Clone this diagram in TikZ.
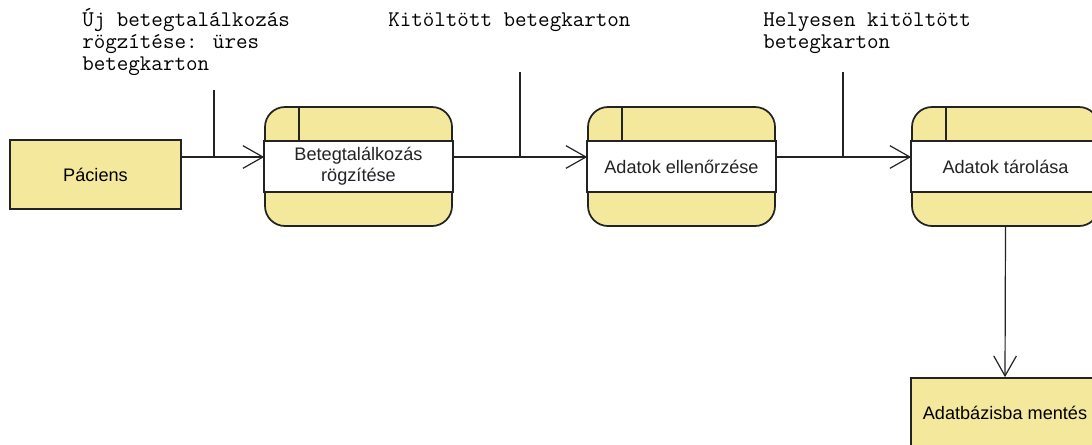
\documentclass[tikz,border=0pt]{standalone}
\usepackage{fontspec}
\setmainfont{Liberation Sans}
\usepackage{tikz}
\usetikzlibrary{arrows.meta,calc}
\definecolor{dfdyellow}{RGB}{243,232,155}
\definecolor{dfdline}{RGB}{35,35,35}

\begin{document}
\begin{tikzpicture}[x=0.75pt,y=0.75pt,yscale=-1,xscale=1,
  ext/.style={draw=dfdline,fill=dfdyellow,line width=1.3pt,minimum width=128.25pt,minimum height=51.75pt,inner sep=0pt,font=\fontsize{13.6}{16}\selectfont},
  proc/.style={draw=dfdline,fill=dfdyellow,line width=1.3pt,rounded corners=15pt,minimum width=140.25pt,minimum height=89.25pt,inner sep=0pt},
  band/.style={draw=dfdline,fill=white,line width=1.3pt},
  lbl/.style={font=\fontsize{13.6}{16}\selectfont,align=center,text=dfdline,inner sep=0pt},
  flowtxt/.style={font=\ttfamily\fontsize{16.8}{16.5}\selectfont,anchor=base west,align=left,inner sep=0pt},
  flow/.style={draw=dfdline,line width=0.9pt,-{Straight Barb[length=15pt,width=17pt]}},
]
\useasboundingbox (0,0) rectangle (1092,444);
\clip (0,0) rectangle (1092,444);

% external entity
\node[ext] (pac) at (95.5,174.5) {Páciens};

% processes
\node[proc] (p1) at (358.5,166.5) {};
\draw[band] ($(p1.west)+(0,-25.5)$) rectangle ($(p1.east)+(0,25.5)$);
\draw[band] ($(p1.north west)+(35,0)$) -- ($(p1.north west)+(35,34)$);
\node[lbl] (p1t) at (p1) {Betegtalálkozás\\rögzítése};

\node[proc] (p2) at (681.5,166.5) {};
\draw[band] ($(p2.west)+(0,-25.5)$) rectangle ($(p2.east)+(0,25.5)$);
\draw[band] ($(p2.north west)+(35,0)$) -- ($(p2.north west)+(35,34)$);
\node[lbl] (p2t) at (p2) {Adatok ellenőrzése};

\node[proc] (p3) at (1005.5,166.5) {};
\draw[band] ($(p3.west)+(0,-25.5)$) rectangle ($(p3.east)+(0,25.5)$);
\draw[band] ($(p3.north west)+(35,0)$) -- ($(p3.north west)+(35,34)$);
\node[lbl] (p3t) at (p3) {Adatok tárolása};

% data store
\node[ext,minimum width=141pt] (db) at (1005,412.5) {Adatbázisba mentés};

% data flows
\coordinate (d1) at (214,90);
\coordinate (j1) at (214,157);
\coordinate (d2) at (520,72);
\coordinate (j2) at (520,157);
\coordinate (d3) at (843,72);
\coordinate (j3) at (843,157);

\draw[flow] (pac.east |- j1) -- (p1.west |- j1);
\draw[flow] (p1.east |- j2) -- (p2.west |- j2);
\draw[flow] (p2.east |- j3) -- (p3.west |- j3);
\draw[flow] (p3.south) -- (db.north);

\draw[draw=dfdline,line width=0.9pt] (d1) -- (j1);
\draw[draw=dfdline,line width=0.9pt] (d2) -- (j2);
\draw[draw=dfdline,line width=0.9pt] (d3) -- (j3);

% flow labels (anchored at the last baseline)
\node[flowtxt] (f1) at (82,70) {Új betegtalálkozás\\rögzítése: üres\\betegkarton};
\node[flowtxt] (f2) at (388,26) {Kitöltött betegkarton};
\node[flowtxt] (f3) at (763,48) {Helyesen kitöltött\\betegkarton};
\end{tikzpicture}
\end{document}
